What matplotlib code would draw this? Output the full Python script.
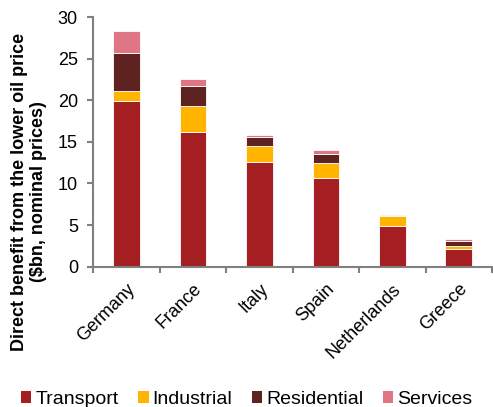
import matplotlib
matplotlib.use("Agg")
import matplotlib.pyplot as plt
import numpy as np
from matplotlib.patches import Patch

countries = ["Germany", "France", "Italy", "Spain", "Netherlands", "Greece"]
transport = [19.9, 16.2, 12.6, 10.7, 4.9, 2.1]
industrial = [1.2, 3.1, 1.9, 1.8, 1.2, 0.4]
residential = [4.6, 2.4, 1.1, 1.0, 0.0, 0.6]
services = [2.6, 0.9, 0.2, 0.5, 0.1, 0.2]

series = [("Transport", transport, "#a51e22"),
          ("Industrial", industrial, "#ffb400"),
          ("Residential", residential, "#5e2320"),
          ("Services", services, "#e07585")]

plt.rcParams["font.family"] = ["Liberation Sans", "DejaVu Sans"]

fig = plt.figure(figsize=(4.93, 4.07), dpi=100)
ax = fig.add_axes([0.189, 0.345, 0.809, 0.613])

x = np.arange(len(countries))
bottom = np.zeros(len(countries))
for name, vals, color in series:
    v = np.array(vals)
    ax.bar(x, v, width=0.4, bottom=bottom, color=color,
           edgecolor="white", linewidth=0.6, label=name)
    bottom += v

ax.set_xlim(-0.5, len(countries) - 0.5)
ax.set_ylim(0, 30)
ax.set_yticks(range(0, 31, 5))
ax.tick_params(axis="y", labelsize=13, color="#808080", length=4,
               width=1.5, pad=7)

# category boundary ticks (Excel style)
ax.set_xticks(np.arange(-0.5, len(countries), 1.0))
ax.set_xticklabels([])
ax.tick_params(axis="x", which="major", color="#808080", length=4, width=1.5)
ax.set_xticks(x, minor=True)
ax.set_xticklabels(countries, minor=True, rotation=45, ha="right",
                   rotation_mode="anchor", fontsize=13)
ax.tick_params(axis="x", which="minor", length=0, pad=10)

for s in ["top", "right"]:
    ax.spines[s].set_visible(False)
for s in ["left", "bottom"]:
    ax.spines[s].set_color("#808080")
    ax.spines[s].set_linewidth(1.5)

ax.set_ylabel("Direct benefit from the lower oil price\n($bn, nominal prices)",
              fontsize=13, fontweight="bold", linespacing=1.2)
ax.yaxis.set_label_coords(-0.115, 0.30)

handles = [Patch(facecolor=c, label=n) for n, _, c in series]
fig.legend(handles=handles, loc="lower center", bbox_to_anchor=(0.5, -0.045),
           ncol=4, frameon=False, fontsize=14, handlelength=0.55,
           handleheight=0.55, handletextpad=0.2, columnspacing=1.0)

fig.savefig("out.png", dpi=100)
